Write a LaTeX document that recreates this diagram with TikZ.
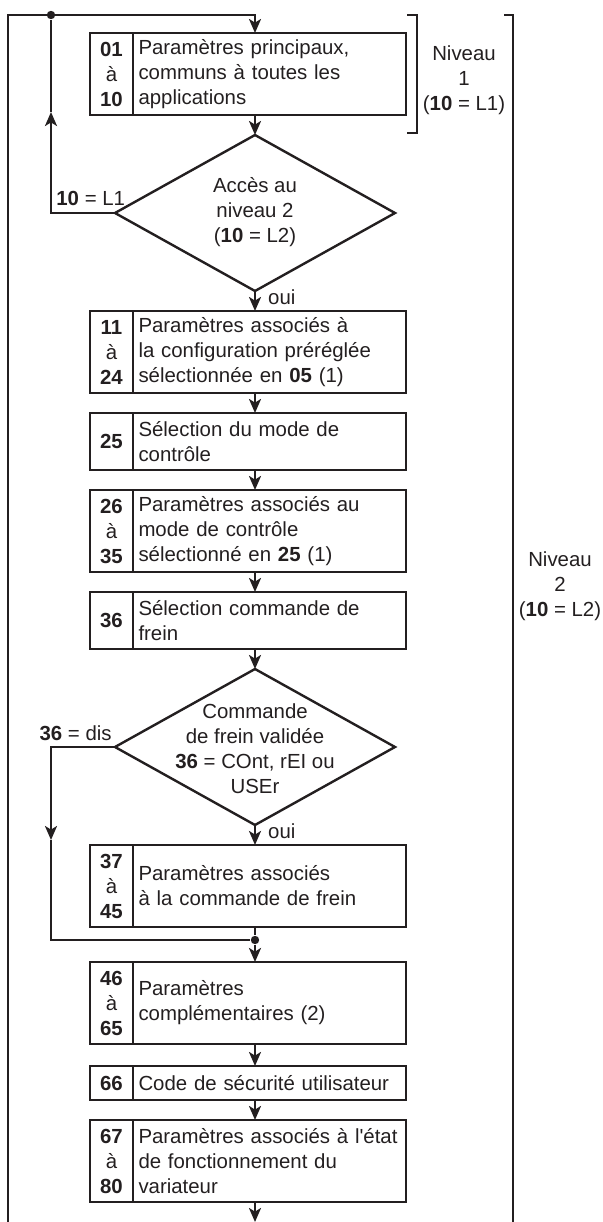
\documentclass[tikz,border=0pt]{standalone}
\usepackage{fontspec}
\setmainfont{Liberation Sans}
\usepackage{xcolor}
\usepackage{tikz}
\usetikzlibrary{arrows.meta, positioning, shapes.geometric, calc}
\definecolor{encre}{HTML}{231F20}
\newcommand{\corps}{\fontsize{10.2}{12.5}\selectfont}
\tikzset{
  texte/.style={rectangle, draw=encre, line width=1.2pt, text=encre, font=\corps,
    minimum width=136.5pt, text width=131pt, inner xsep=2.75pt, inner ysep=0pt,
    outer sep=0pt, align=left},
  numero/.style={rectangle, draw=encre, line width=1.2pt, text=encre, font=\corps,
    minimum width=21.5pt, inner sep=0pt, outer sep=0pt, align=center},
  haut1/.style={minimum height=17pt},
  haut2/.style={minimum height=28.5pt},
  haut3/.style={minimum height=41pt},
  losange/.style={diamond, draw=encre, line width=1.2pt, aspect=1.795,
    inner xsep=70pt, inner ysep=0pt, outer sep=0pt},
  fleche/.style={-{Stealth[length=7pt, width=6pt, inset=1.8pt]}, line width=1.2pt, color=encre},
  trait/.style={line width=1.2pt, color=encre},
  point/.style={circle, fill=encre, inner sep=0pt, minimum size=4.2pt},
  etiquette/.style={font=\corps, text=encre, align=center, inner sep=0pt}
}

\begin{document}
\begin{tikzpicture}[x=0.5pt, y=-0.5pt]
    \useasboundingbox (0,0) rectangle (603,1222);
    \coordinate (axe) at (255,15);
    \coordinate (coin) at (8,15);
    \coordinate (bas) at (8,1222);
    \coordinate (sortie) at (255,1222);
    \coordinate (fl1) at (51,112);
    \coordinate (fl2) at (51,840);

    % Niveau 1
    \node[texte, haut3, anchor=north west] (t01) at (133,33)
      {Paramètres principaux,\\communs à toutes les\\applications};
    \node[numero, haut3, left=0pt of t01] (n01) {\textbf{01}\\à\\\textbf{10}};

    % Acces au niveau 2
    \node[losange, anchor=north] (d1) at ($(t01.south -| axe)+(0,20)$) {};
    \node[etiquette, yshift=0.5pt] (d1t) at (d1) {Accès au\\niveau 2\\(\textbf{10} = L2)};

    % Niveau 2
    \node[texte, haut3, anchor=north] (t11) at ($(d1.south -| t01)+(0,20)$)
      {Paramètres associés à\\la configuration préréglée\\sélectionnée en \textbf{05} (1)};
    \node[numero, haut3, left=0pt of t11] (n11) {\textbf{11}\\à\\\textbf{24}};
    \node[texte, haut2, below=10pt of t11] (t25) {Sélection du mode de\\contrôle};
    \node[numero, haut2, left=0pt of t25] (n25) {\textbf{25}};
    \node[texte, haut3, below=10pt of t25] (t26)
      {Paramètres associés au\\mode de contrôle\\sélectionné en \textbf{25} (1)};
    \node[numero, haut3, left=0pt of t26] (n26) {\textbf{26}\\à\\\textbf{35}};
    \node[texte, haut2, below=10pt of t26] (t36) {Sélection commande de\\frein};
    \node[numero, haut2, left=0pt of t36] (n36) {\textbf{36}};

    % Commande de frein
    \node[losange, anchor=north] (d2) at ($(t36.south -| axe)+(0,20)$) {};
    \node[etiquette, yshift=-1pt] (d2t) at (d2)
      {Commande\\de frein validée\\\textbf{36} = COnt, rEI ou\\USEr};
    \node[texte, haut3, anchor=north] (t37) at ($(d2.south -| t01)+(0,20)$)
      {Paramètres associés\\à la commande de frein};
    \node[numero, haut3, left=0pt of t37] (n37) {\textbf{37}\\à\\\textbf{45}};
    \node[point] (j2) at ($(t37.south -| axe)+(0,13)$) {};

    \node[texte, haut3, below=17.5pt of t37] (t46) {Paramètres\\complémentaires (2)};
    \node[numero, haut3, left=0pt of t46] (n46) {\textbf{46}\\à\\\textbf{65}};
    \node[texte, haut1, below=11pt of t46] (t66) {Code de sécurité utilisateur};
    \node[numero, haut1, left=0pt of t66] (n66) {\textbf{66}};
    \node[texte, haut3, below=10pt of t66] (t67)
      {Paramètres associés à l\textquotesingle état\\de fonctionnement du\\variateur};
    \node[numero, haut3, left=0pt of t67] (n67) {\textbf{67}\\à\\\textbf{80}};

    % Niveaux
    \node[etiquette] (niv1) at (464,80) {Niveau\\1\\(\textbf{10} = L1)};
    \node[etiquette] (niv2) at (560,586) {Niveau\\2\\(\textbf{10} = L2)};
    \draw[trait] (407,15) -- (417,15) -- (417,133) -- (407,133);
    \draw[trait] (504,15) -- (513,15) -- (513,1222);

    % Liaisons
    \node[point] (j1) at (51,15) {};
    \draw[fleche] (bas) -- (coin) -| (t01.north -| axe);
    \draw[fleche] (t01.south -| axe) -- (d1.north);
    \draw[fleche] (d1.south) -- (t11.north -| axe)
      node[etiquette, pos=0.3, anchor=west, xshift=6pt] (oui1) {oui};
    \draw[fleche] (d1.west) -| (fl1);
    \node[etiquette, anchor=south west] (l1) at (56,206) {\textbf{10} = L1};
    \draw[trait] (fl1) -- (j1);
    \draw[fleche] (t11.south -| axe) -- (t25.north -| axe);
    \draw[fleche] (t25.south -| axe) -- (t26.north -| axe);
    \draw[fleche] (t26.south -| axe) -- (t36.north -| axe);
    \draw[fleche] (t36.south -| axe) -- (d2.north);
    \draw[fleche] (d2.south) -- (t37.north -| axe)
      node[etiquette, pos=0.3, anchor=west, xshift=6pt] (oui2) {oui};
    \draw[fleche] (d2.west) -| (fl2);
    \node[etiquette, anchor=south east] (l2) at (112,741) {\textbf{36} = dis};
    \draw[trait] (fl2) |- (j2);
    \draw[trait] (t37.south -| axe) -- (j2);
    \draw[fleche] (j2) -- (t46.north -| axe);
    \draw[fleche] (t46.south -| axe) -- (t66.north -| axe);
    \draw[fleche] (t66.south -| axe) -- (t67.north -| axe);
    \draw[fleche] (t67.south -| axe) -- (sortie);
\end{tikzpicture}
\end{document}
